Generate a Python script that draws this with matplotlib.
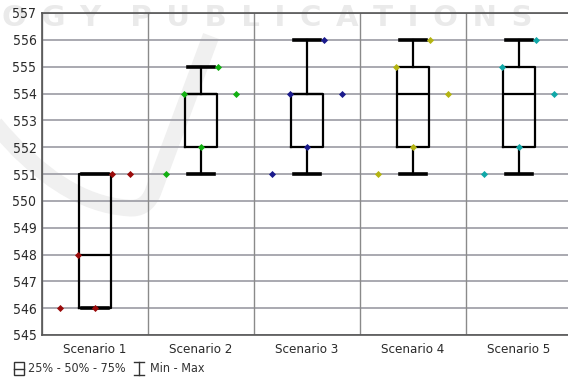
import numpy as np
import matplotlib
matplotlib.use("Agg")
import matplotlib.pyplot as plt
from matplotlib.lines import Line2D
from matplotlib.patches import Rectangle, PathPatch
from matplotlib.path import Path
from matplotlib.transforms import Affine2D

# veriler
senaryolar = ["Scenario 1", "Scenario 2", "Scenario 3", "Scenario 4", "Scenario 5"]
s1 = [546, 548, 546, 551, 551]
s2 = [551, 554, 552, 555, 554]
s3 = [551, 554, 552, 556, 554]
s4 = [551, 555, 552, 556, 554]
s5 = [551, 555, 552, 556, 554]
y_ticks = list(range(545, 558))
renkler = ["#9a0a0a", "#12b012", "#1a1a8c", "#b4b412", "#10a8a8"]

veri = [s1, s2, s3, s4, s5]
kaydirma = [-0.33, -0.165, 0.0, 0.165, 0.33]

W, H = 568, 381
plt.rcParams['font.family'] = ['DejaVu Sans']
fig = plt.figure(figsize=(W/100, H/100), dpi=100)
ax = fig.add_axes([42/W, 46/H, 526/W, 322/H])
ax.patch.set_alpha(0)
piksel = Affine2D().scale(1/W, -1/H).translate(0, 1) + fig.transFigure

# filigran (arka planda)
kavis = Path([(-5, 124), (60, 203), (128, 208), (146, 210), (153, 192), (211, 36)],
             [Path.MOVETO, Path.CURVE3, Path.CURVE3, Path.CURVE3, Path.CURVE3, Path.LINETO])
fig.add_artist(PathPatch(kavis, transform=piksel, fill=False, ec="#f0f0f0", lw=12,
                         capstyle="butt", joinstyle="round", zorder=-2))
harfler = "\u2002".join("OGY") + "\u2002\u2002" + "\u2002".join("PUBLICATIONS")
fig.text(2/W, 1 - 4/H, harfler, ha="left", va="top", fontsize=21,
         fontweight="bold", color="#eaeaea", zorder=-1)

# izgara
for y in y_ticks:
    ax.axhline(y, color="#a2a2aa", lw=1.3, zorder=1)
for i in range(len(senaryolar) + 1):
    ax.axvline(i + 0.5, color="#8a8a8a", lw=1.0, zorder=1)

ax.boxplot(veri, positions=range(1, 6), whis=(0, 100), showfliers=False,
           widths=0.30, capwidths=0.24,
           boxprops=dict(color="black", lw=1.6),
           medianprops=dict(color="black", lw=1.6),
           whiskerprops=dict(color="black", lw=1.6),
           capprops=dict(color="black", lw=2.6),
           zorder=3)

for i, (d, c) in enumerate(zip(veri, renkler)):
    xs = [i + 1 + k for k in kaydirma]
    ax.scatter(xs, d, marker="D", s=13, color=c, zorder=4, linewidths=0)

ax.set_xlim(0.5, 0.5 + 526/106)
ax.set_ylim(545, 557)
ax.set_yticks(y_ticks)
ax.set_xticks(range(1, 6))
ax.set_xticklabels(senaryolar, fontsize=9.5, color="#2a2a2a", fontstretch="condensed")
ax.set_yticklabels([str(v) for v in y_ticks], fontsize=10, color="#2a2a2a", fontstretch="condensed")
ax.tick_params(axis="both", length=0)
ax.tick_params(axis="x", pad=6)
ax.tick_params(axis="y", pad=4)
for k in ["left", "bottom", "top"]:
    ax.spines[k].set_color("#555555")
    ax.spines[k].set_linewidth(1.2)
ax.spines["right"].set_visible(False)

# açıklama (legend)
fig.add_artist(Rectangle((14, 375), 10, -13, transform=piksel, fill=False, ec="#333333", lw=1.0))
fig.add_artist(Line2D([14, 24], [368.5, 368.5], transform=piksel, color="#333333", lw=1.0))
fig.text(28/W, 1 - 368.5/H, "25% - 50% - 75%", fontsize=9, color="#333333",
         va="center", fontstretch="condensed")
fig.add_artist(Line2D([139, 139], [375, 362], transform=piksel, color="#333333", lw=1.0))
fig.add_artist(Line2D([134, 144], [362, 362], transform=piksel, color="#333333", lw=1.0))
fig.add_artist(Line2D([134, 144], [375, 375], transform=piksel, color="#333333", lw=1.0))
fig.text(150/W, 1 - 368.5/H, "Min - Max", fontsize=9, color="#333333",
         va="center", fontstretch="condensed")

fig.savefig("out.png", dpi=100)
